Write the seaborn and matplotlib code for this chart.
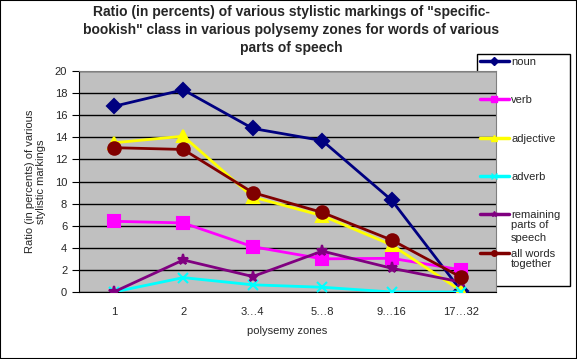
import numpy as np
import pandas as pd
import matplotlib as mpl
import matplotlib.pyplot as plt
from matplotlib.lines import Line2D
import seaborn as sns

# 数据
zones = ['1', '2', '3…4', '5…8', '9…16', '17…32']
noun = [16.8, 18.3, 14.8, 13.7, 8.3, 0.1]
verb = [6.4, 6.25, 4.1, 3.0, 3.05, 2.0]
adjective = [13.5, 14.1, 8.6, 6.9, 4.25, 0.1]
adverb = [0.0, 1.3, 0.65, 0.43, 0.0, 0.0]
remaining = [0.0, 2.9, 1.4, 3.7, 2.15, 0.9]
all_words = [13.06, 12.9, 9.0, 7.2, 4.7, 1.33]

series_names = ['noun', 'verb', 'adjective', 'adverb', 'remaining', 'all words']
extra_lines = ['', '', '', '', 'parts of\nspeech', 'together']
series_vals = [noun, verb, adjective, adverb, remaining, all_words]

colors = ['#000080', '#FF00FF', '#FFFF00', '#00FFFF', '#800080', '#800000']
markers = ['D', 's', '^', 'x', '*', 'o']
msizes = [7, 9, 8, 7, 8, 9]

rows = []
for name, vals in zip(series_names, series_vals):
    for z, v in zip(zones, vals):
        rows.append({'zone': z, 'value': v, 'series': name})
df = pd.DataFrame(rows)

sns.set_style('white')
mpl.rcParams['font.family'] = ['Liberation Sans', 'DejaVu Sans']

W, H = 577, 359
fig = plt.figure(figsize=(W / 100, H / 100), dpi=100)
ax = fig.add_axes([79 / W, 1 - 292 / H, (496 - 79) / W, (292 - 71) / H])
ax.set_facecolor('#C0C0C0')

for i, name in enumerate(series_names):
    sub = df[df['series'] == name]
    sns.lineplot(data=sub, x='zone', y='value', ax=ax, color=colors[i],
                 marker=markers[i], markersize=msizes[i], linewidth=2.0,
                 markeredgecolor=colors[i], markeredgewidth=1.5,
                 sort=False, legend=False, zorder=3)

ax.set_xlim(-0.5, len(zones) - 0.5)
ax.set_ylim(0, 20)
ax.set_yticks(range(0, 21, 2))
ax.yaxis.grid(True, color='black', linewidth=1)
ax.set_axisbelow(True)
ax.set_xticks(range(len(zones)))
ax.set_xticklabels(zones)
ax.set_xticks(np.arange(-0.5, len(zones), 1), minor=True)
ax.tick_params(axis='x', which='major', length=0, labelsize=8, pad=11)
ax.tick_params(axis='x', which='minor', length=5, direction='out', color='black')
ax.tick_params(axis='y', length=5, direction='out', color='black', labelsize=8, left=True)
for s in ['top', 'right']:
    ax.spines[s].set_color('#808080')
for s in ['left', 'bottom']:
    ax.spines[s].set_color('black')

ax.set_xlabel('polysemy zones', fontsize=8, labelpad=6)
ax.set_ylabel('Ratio (in percents) of various\nstylistic markings', fontsize=8, labelpad=6)

fig.text(0.505, 0.985,
         'Ratio (in percents) of various stylistic markings of "specific-\n'
         'bookish" class in various polysemy zones for words of various\n'
         'parts of speech',
         ha='center', va='top', fontsize=10, fontweight='bold', linespacing=1.35)

# 图例（独立的小标记句柄）
handles = [Line2D([], [], color=c, marker=m, markersize=4, markeredgecolor=c,
                  markeredgewidth=1, linewidth=2.5)
           for c, m in zip(colors, markers)]
leg = fig.legend(handles, series_names, loc='upper left',
                 bbox_to_anchor=(480 / W, 1 - 57 / H),
                 fontsize=8, frameon=False, handlelength=2.6, handletextpad=0.2,
                 labelspacing=2.55, borderpad=0.0, borderaxespad=0)

fig.canvas.draw()
renderer = fig.canvas.get_renderer()
for t, extra in zip(leg.get_texts(), extra_lines):
    if extra:
        bb = t.get_window_extent(renderer)
        fig.text(bb.x0 / W, (bb.y0 + 0) / H, extra, fontsize=8, ha='left', va='top',
                 linespacing=1.3)

fig.patches.append(mpl.patches.Rectangle((477 / W, 1 - 286 / H), (570 - 477) / W, (286 - 54) / H,
                                         transform=fig.transFigure, fill=True, facecolor='white',
                                         edgecolor='black', linewidth=1, zorder=-1))
fig.patches.append(mpl.patches.Rectangle((0, 0), 1, 1, transform=fig.transFigure,
                                         fill=False, edgecolor='black', linewidth=1.5))

plt.savefig('out.png', dpi=100)
